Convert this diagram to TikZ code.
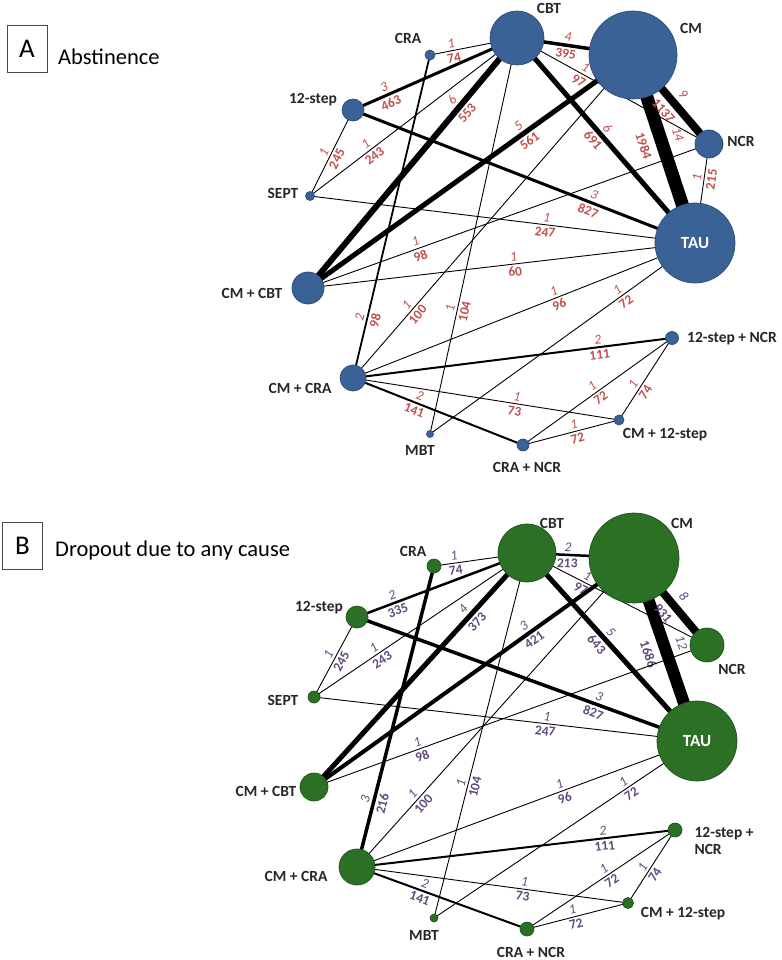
\documentclass[tikz,border=0pt]{standalone}
\usepackage{fontspec}
\setmainfont{Carlito}
\usetikzlibrary{positioning}
\definecolor{blueA}{HTML}{3B6296}
\definecolor{blueAline}{HTML}{2C4C78}
\definecolor{greenB}{HTML}{2B7024}
\definecolor{greenBline}{HTML}{1F5519}
\definecolor{numA}{HTML}{C0504D}
\definecolor{numB}{HTML}{604A7B}
\definecolor{boxline}{HTML}{4A4A3A}
\pgfdeclarelayer{edges}
\pgfsetlayers{edges,main}
\tikzset{
  netA/.style={circle, inner sep=0pt, fill=blueA, draw=blueAline, line width=0.7pt},
  netB/.style={circle, inner sep=0pt, fill=greenB, draw=greenBline, line width=0.7pt},
  tname/.style={font=\fontsize{15.5}{17}\selectfont\bfseries, text=black!85},
  inname/.style={font=\fontsize{17}{19}\selectfont\bfseries, text=white},
  letterbox/.style={draw=boxline, line width=0.9pt, minimum width=40pt, minimum height=47pt, inner sep=0pt, font=\fontsize{27}{30}\selectfont},
  paneltitle/.style={anchor=base west, inner sep=0pt, font=\fontsize{22.5}{25}\selectfont},
  netlink/.style={draw=black, line width=#1},
  netlink/.default=0.9pt,
  studA/.style={above, sloped, inner sep=2.5pt, text=numA, font=\fontsize{13.5}{15}\selectfont\itshape},
  partA/.style={below, sloped, inner sep=2.5pt, text=numA, font=\fontsize{13.5}{15}\selectfont\bfseries},
  studB/.style={above, sloped, inner sep=2.5pt, text=numB, font=\fontsize{13.5}{15}\selectfont\itshape},
  partB/.style={below, sloped, inner sep=2.5pt, text=numB, font=\fontsize{13.5}{15}\selectfont\bfseries}
}

\begin{document}
\begin{tikzpicture}[x=1pt, y=-1pt]
  \useasboundingbox (0,0) rectangle (781,960);

  % panel A: abstinence
  \node[letterbox] (boxA) at (27,48.5) {A};
  \node[paneltitle] (titleA) at (58,65) {Abstinence};

  \node[netA, minimum size=54pt] (cbtA) at (517,38) {};
  \node[netA, minimum size=88pt] (cmA) at (633,55) {};
  \node[netA, minimum size=28pt] (ncrA) at (709,144) {};
  \node[netA, minimum size=80pt, inname] (tauA) at (695,243) {TAU};
  \node[netA, minimum size=10pt] (craA) at (430,55) {};
  \node[netA, minimum size=22pt] (stepA) at (353,110) {};
  \node[netA, minimum size=9pt] (septA) at (310,196) {};
  \node[netA, minimum size=32pt] (cmcbtA) at (308,288) {};
  \node[netA, minimum size=26pt] (cmcraA) at (353,378) {};
  \node[netA, minimum size=7pt] (mbtA) at (430,434) {};
  \node[netA, minimum size=12pt] (cranrA) at (523,445) {};
  \node[netA, minimum size=10pt] (cmstepA) at (619,420) {};
  \node[netA, minimum size=13pt] (stepncrA) at (672,338) {};

  \node[tname] (cbtAname) at (549,8) {CBT};
  \node[tname] (cmAname) at (691,28) {CM};
  \node[tname] (ncrAname) at (741,141) {NCR};
  \node[tname] (craAname) at (408,38) {CRA};
  \node[tname] (stepAname) at (313,100) {12-step};
  \node[tname] (septAname) at (283,193) {SEPT};
  \node[tname] (cmcbtAname) at (252,293) {CM + CBT};
  \node[tname] (cmcraAname) at (300,388) {CM + CRA};
  \node[tname] (mbtAname) at (420,450) {MBT};
  \node[tname] (cranrAname) at (527,467) {CRA + NCR};
  \node[tname] (cmstepAname) at (665,435) {CM + 12-step};
  \node[tname] (stepncrAname) at (732,339) {12-step + NCR};

  \begin{pgfonlayer}{edges}
    \draw[netlink] (craA.center) -- node[pos=.26, studA] {1} node[pos=.26, partA] {74} (cbtA.center);
    \draw[netlink=3pt] (stepA.center) -- node[pos=.21, studA] {3} node[pos=.21, partA] {463} (cbtA.center);
    \draw[netlink] (septA.center) -- node[pos=.47, studA] {1} node[pos=.47, partA] {245} (stepA.center);
    \draw[netlink] (septA.center) -- node[pos=.29, studA] {1} node[pos=.29, partA] {243} (cbtA.center);
    \draw[netlink=6pt] (cmcbtA.center) -- node[pos=.725, studA] {6} node[pos=.725, partA] {553} (cbtA.center);
    \draw[netlink=5pt] (cmcbtA.center) -- node[pos=.664, studA] {5} node[pos=.664, partA] {561} (cmA.center);
    \draw[netlink=3.5pt] (cbtA.center) -- node[pos=.43, studA] {4} node[pos=.43, partA] {395} (cmA.center);
    \draw[netlink] (cbtA.center) -- node[pos=.34, studA] {1} node[pos=.34, partA] {97} (ncrA.center);
    \draw[netlink=5pt] (cbtA.center) -- node[pos=.468, studA] {6} node[pos=.468, partA] {691} (tauA.center);
    \draw[netlink=13pt] (cmA.center) -- node[pos=.452, studA, inner sep=7pt] {14} node[pos=.452, partA, inner sep=7pt] {1984} (tauA.center);
    \draw[netlink=8pt] (cmA.center) -- node[pos=.53, studA, inner sep=4.5pt] {9} node[pos=.53, partA, inner sep=4.5pt] {1137} (ncrA.center);
    \draw[netlink] (ncrA.center) -- node[pos=.346, studA] {1} node[pos=.346, partA] {215} (tauA.center);
    \draw[netlink=3pt] (stepA.center) -- node[pos=.697, studA] {3} node[pos=.697, partA] {827} (tauA.center);
    \draw[netlink] (septA.center) -- node[pos=.613, studA] {1} node[pos=.613, partA] {247} (tauA.center);
    \draw[netlink] (cmcbtA.center) -- node[pos=.533, studA] {1} node[pos=.533, partA] {60} (tauA.center);
    \draw[netlink] (cmcbtA.center) -- node[pos=.274, studA] {1} node[pos=.274, partA] {98} (ncrA.center);
    \draw[netlink=1.8pt] (cmcraA.center) -- node[pos=.184, studA] {2} node[pos=.184, partA] {98} (craA.center);
    \draw[netlink] (cmcraA.center) -- node[pos=.211, studA] {1} node[pos=.211, partA] {100} (cmA.center);
    \draw[netlink] (mbtA.center) -- node[pos=.313, studA] {1} node[pos=.313, partA] {104} (cbtA.center);
    \draw[netlink] (cmcraA.center) -- node[pos=.595, studA] {1} node[pos=.595, partA] {96} (tauA.center);
    \draw[netlink] (mbtA.center) -- node[pos=.723, studA] {1} node[pos=.723, partA] {72} (tauA.center);
    \draw[netlink=2pt] (cmcraA.center) -- node[pos=.77, studA] {2} node[pos=.77, partA] {111} (stepncrA.center);
    \draw[netlink] (cmcraA.center) -- node[pos=.612, studA] {1} node[pos=.612, partA] {73} (cmstepA.center);
    \draw[netlink=2pt] (cmcraA.center) -- node[pos=.377, studA] {2} node[pos=.377, partA] {141} (cranrA.center);
    \draw[netlink] (cranrA.center) -- node[pos=.492, studA] {1} node[pos=.492, partA] {72} (stepncrA.center);
    \draw[netlink] (cranrA.center) -- node[pos=.549, studA] {1} node[pos=.549, partA] {72} (cmstepA.center);
    \draw[netlink] (cmstepA.center) -- node[pos=.383, studA] {1} node[pos=.383, partA] {74} (stepncrA.center);
  \end{pgfonlayer}

  % panel B: dropout due to any cause
  \node[letterbox] (boxB) at (22.5,545.5) {B};
  \node[paneltitle] (titleB) at (55,556) {Dropout due to any cause};

  \node[netB, minimum size=58pt] (cbtB) at (527,553) {};
  \node[netB, minimum size=90pt] (cmB) at (634,558) {};
  \node[netB, minimum size=34pt] (ncrB) at (707,645) {};
  \node[netB, minimum size=80pt, inname] (tauB) at (697,741) {TAU};
  \node[netB, minimum size=14pt] (craB) at (434,566) {};
  \node[netB, minimum size=22pt] (stepB) at (357,617) {};
  \node[netB, minimum size=12pt] (septB) at (314,697) {};
  \node[netB, minimum size=28pt] (cmcbtB) at (314,787) {};
  \node[netB, minimum size=36pt] (cmcraB) at (357,867) {};
  \node[netB, minimum size=8pt] (mbtB) at (434,918) {};
  \node[netB, minimum size=14pt] (cranrB) at (527,929) {};
  \node[netB, minimum size=11pt] (cmstepB) at (628,903) {};
  \node[netB, minimum size=14pt] (stepncrB) at (675,830) {};

  \node[tname] (cbtBname) at (552,523) {CBT};
  \node[tname] (cmBname) at (682,523) {CM};
  \node[tname] (ncrBname) at (732,669) {NCR};
  \node[tname] (craBname) at (413,551) {CRA};
  \node[tname] (stepBname) at (319,608) {12-step};
  \node[tname] (septBname) at (283,700) {SEPT};
  \node[tname] (cmcbtBname) at (266,791) {CM + CBT};
  \node[tname] (cmcraBname) at (296,876) {CM + CRA};
  \node[tname] (mbtBname) at (424,935) {MBT};
  \node[tname] (cranrBname) at (531,952) {CRA + NCR};
  \node[tname] (cmstepBname) at (683,914) {CM + 12-step};
  \node[tname, align=left, anchor=west] (stepncrBname) at (691,841) {12-step +\\NCR};

  \begin{pgfonlayer}{edges}
    \draw[netlink] (craB.center) -- node[pos=.224, studB] {1} node[pos=.224, partB] {74} (cbtB.center);
    \draw[netlink=2.5pt] (stepB.center) -- node[pos=.223, studB] {2} node[pos=.223, partB] {335} (cbtB.center);
    \draw[netlink] (septB.center) -- node[pos=.485, studB] {1} node[pos=.485, partB] {245} (stepB.center);
    \draw[netlink] (septB.center) -- node[pos=.30, studB] {1} node[pos=.30, partB] {243} (cbtB.center);
    \draw[netlink=5pt] (cmcbtB.center) -- node[pos=.733, studB] {4} node[pos=.733, partB] {373} (cbtB.center);
    \draw[netlink=4pt] (cmcbtB.center) -- node[pos=.672, studB] {3} node[pos=.672, partB] {421} (cmB.center);
    \draw[netlink=2.5pt] (cbtB.center) -- node[pos=.38, studB] {2} node[pos=.38, partB] {213} (cmB.center);
    \draw[netlink] (cbtB.center) -- node[pos=.318, studB] {1} node[pos=.318, partB] {97} (ncrB.center);
    \draw[netlink=5pt] (cbtB.center) -- node[pos=.452, studB] {5} node[pos=.452, partB] {643} (tauB.center);
    \draw[netlink=12pt] (cmB.center) -- node[pos=.494, studB, inner sep=7pt] {12} node[pos=.494, partB, inner sep=7pt] {1686} (tauB.center);
    \draw[netlink=8pt] (cmB.center) -- node[pos=.538, studB, inner sep=5pt] {8} node[pos=.538, partB, inner sep=5pt] {931} (ncrB.center);
    \draw[netlink=3.5pt] (stepB.center) -- node[pos=.704, studB] {3} node[pos=.704, partB] {827} (tauB.center);
    \draw[netlink] (septB.center) -- node[pos=.606, studB] {1} node[pos=.606, partB] {247} (tauB.center);
    \draw[netlink] (cmcbtB.center) -- node[pos=.269, studB] {1} node[pos=.269, partB] {98} (ncrB.center);
    \draw[netlink=3.5pt] (cmcraB.center) -- node[pos=.218, studB] {3} node[pos=.218, partB] {216} (craB.center);
    \draw[netlink] (cmcraB.center) -- node[pos=.22, studB] {1} node[pos=.22, partB] {100} (cmB.center);
    \draw[netlink] (mbtB.center) -- node[pos=.365, studB] {1} node[pos=.365, partB] {104} (cbtB.center);
    \draw[netlink] (cmcraB.center) -- node[pos=.603, studB] {1} node[pos=.603, partB] {96} (tauB.center);
    \draw[netlink] (mbtB.center) -- node[pos=.735, studB] {1} node[pos=.735, partB] {72} (tauB.center);
    \draw[netlink=2pt] (cmcraB.center) -- node[pos=.776, studB] {2} node[pos=.776, partB] {111} (stepncrB.center);
    \draw[netlink] (cmcraB.center) -- node[pos=.615, studB] {1} node[pos=.615, partB] {73} (cmstepB.center);
    \draw[netlink=2pt] (cmcraB.center) -- node[pos=.385, studB] {2} node[pos=.385, partB] {141} (cranrB.center);
    \draw[netlink] (cranrB.center) -- node[pos=.546, studB] {1} node[pos=.546, partB] {72} (stepncrB.center);
    \draw[netlink] (cranrB.center) -- node[pos=.468, studB] {1} node[pos=.468, partB] {72} (cmstepB.center);
    \draw[netlink] (cmstepB.center) -- node[pos=.442, studB] {1} node[pos=.442, partB] {74} (stepncrB.center);
  \end{pgfonlayer}
\end{tikzpicture}
\end{document}
